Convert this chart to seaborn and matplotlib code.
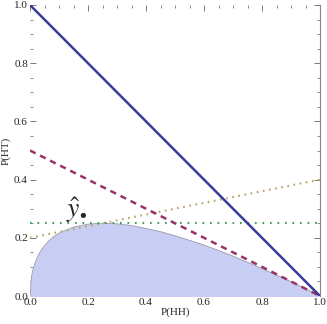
import matplotlib
matplotlib.use("Agg")
import matplotlib.pyplot as plt
import seaborn as sns
import pandas as pd
from matplotlib.ticker import MultipleLocator

sns.set_style("white")
plt.rcParams['font.family'] = ['Liberation Serif', 'DejaVu Serif']
plt.rcParams['mathtext.fontset'] = 'stix'

# Data
line_x = [0.0, 1.0]
solid_y = [1.0, 0.0]
dashed_y = [0.5, 0.0]
olive_y = [0.2, 0.4]
green_y = [0.25, 0.25]

region_x = [0.0, 0.005, 0.01, 0.02, 0.03, 0.04, 0.06, 0.08, 0.1, 0.15, 0.2, 0.25,
            0.3, 0.35, 0.4, 0.45, 0.5, 0.6, 0.7, 0.8, 0.9, 0.95, 1.0]
region_y = [0.0, 0.066, 0.09, 0.121, 0.143, 0.16, 0.185, 0.203, 0.216, 0.237, 0.247, 0.25,
            0.248, 0.242, 0.232, 0.221, 0.207, 0.175, 0.137, 0.094, 0.049, 0.025, 0.0]

ticks = [0.0, 0.2, 0.4, 0.6, 0.8, 1.0]
tick_labels = ["0.0", "0.2", "0.4", "0.6", "0.8", "1.0"]

fig = plt.figure(figsize=(3.27, 3.24), dpi=100)
ax = fig.add_axes([30/327, 1-296/324, 290/327, 291/324])

ax.fill_between(region_x, region_y, 0, color="#c8cdf3", zorder=1)
ax.plot(region_x, region_y, color="#a0a0a8", lw=0.6, zorder=2)

df = pd.DataFrame({"x": line_x, "solid": solid_y, "dashed": dashed_y,
                   "olive": olive_y, "green": green_y})
sns.lineplot(data=df, x="x", y="olive", ax=ax, color="#b8a35e", lw=1.5,
             linestyle=(0, (0.8, 2.2)), zorder=3)
sns.lineplot(data=df, x="x", y="green", ax=ax, color="#3f9c5a", lw=1.5,
             linestyle=(0, (0.8, 2.8)), zorder=3)
sns.lineplot(data=df, x="x", y="dashed", ax=ax, color="#993366", lw=1.8,
             linestyle=(0, (2.5, 2.0)), zorder=4)
sns.lineplot(data=df, x="x", y="solid", ax=ax, color="#3b3b98", lw=1.8, zorder=5)

ax.text(0.16, 0.295, r"$\hat{y}_{\bullet}$", fontsize=20, ha="center", va="center")

ax.set_xlim(0, 1)
ax.set_ylim(0, 1)
ax.set_xticks(ticks)
ax.set_xticklabels(tick_labels)
ax.set_yticks(ticks)
ax.set_yticklabels(tick_labels)
ax.xaxis.set_minor_locator(MultipleLocator(0.05))
ax.yaxis.set_minor_locator(MultipleLocator(0.05))
ax.tick_params(which="major", direction="in", length=4, width=0.7, color="#777777",
               labelsize=8, top=True, right=True, bottom=True, left=True, pad=1.5)
ax.tick_params(which="minor", direction="in", length=2, width=0.6, color="#777777",
               top=True, right=True, bottom=True, left=True)
ax.set_xlabel("P(HH)", fontsize=8)
ax.set_ylabel("P(HT)", fontsize=8)
ax.xaxis.set_label_coords(0.5, -0.04)
ax.yaxis.set_label_coords(-0.066, 0.5)

for s in ["left", "top", "bottom"]:
    ax.spines[s].set_visible(False)
ax.spines["right"].set_color("#888888")
ax.spines["right"].set_linewidth(0.8)

fig.savefig("out.png", dpi=100)
